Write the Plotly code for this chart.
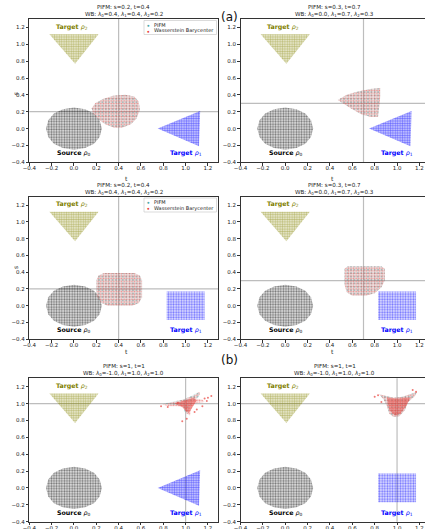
import plotly.graph_objects as go

W, H = 425, 529

# ---------------- data ----------------
PANEL_S = [0.2, 0.3, 0.2, 0.3, 1, 1]
PANEL_T = [0.4, 0.7, 0.4, 0.7, 1, 1]
LAMBDA_0 = [0.4, 0.0, 0.4, 0.0, -1.0, -1.0]
LAMBDA_1 = [0.4, 0.7, 0.4, 0.7, 1.0, 1.0]
LAMBDA_2 = [0.2, 0.3, 0.2, 0.3, 1.0, 1.0]
TARGET1_KIND = ["tri", "tri", "square", "square", "tri", "square"]

TICK_VALUES = [-0.4, -0.2, 0.0, 0.2, 0.4, 0.6, 0.8, 1.0, 1.2]
TICK_LABELS = ["\u22120.4", "\u22120.2", "0.0", "0.2", "0.4", "0.6", "0.8", "1.0", "1.2"]

# source rho_0 (disc) outline
SOURCE_X = [0.25, 0.23, 0.18, 0.10, 0.0, -0.10, -0.18, -0.23, -0.25, -0.23, -0.18, -0.10, 0.0, 0.10, 0.18, 0.23, 0.25]
SOURCE_Y = [0.0, 0.10, 0.18, 0.23, 0.25, 0.23, 0.18, 0.10, 0.0, -0.10, -0.18, -0.23, -0.25, -0.23, -0.18, -0.10, 0.0]

# target rho_2 (inverted triangle)
TARGET2_X = [-0.22, 0.22, 0.01, -0.22]
TARGET2_Y = [1.12, 1.12, 0.77, 1.12]

# target rho_1 variants
TARGET1_TRI_X = [0.75, 1.13, 1.12, 0.75]
TARGET1_TRI_Y = [0.0, 0.21, -0.21, 0.0]
TARGET1_SQ_X = [0.83, 1.17, 1.17, 0.83, 0.83]
TARGET1_SQ_Y = [-0.17, -0.17, 0.17, 0.17, -0.17]

# barycenter / PIFM outlines per panel
BARY0_X = [0.16, 0.19, 0.26, 0.35, 0.46, 0.54, 0.58, 0.59, 0.56, 0.51, 0.43, 0.36, 0.28, 0.21, 0.17, 0.16]
BARY0_Y = [0.24, 0.30, 0.35, 0.39, 0.40, 0.38, 0.32, 0.22, 0.12, 0.05, 0.01, 0.01, 0.05, 0.12, 0.18, 0.24]
BARY1_X = [0.47, 0.55, 0.65, 0.76, 0.85, 0.85, 0.84, 0.83, 0.76, 0.68, 0.60, 0.52, 0.47]
BARY1_Y = [0.34, 0.40, 0.44, 0.47, 0.48, 0.38, 0.25, 0.14, 0.14, 0.17, 0.23, 0.30, 0.34]
BARY2_X = [0.20, 0.22, 0.27, 0.54, 0.59, 0.61, 0.61, 0.58, 0.52, 0.30, 0.24, 0.20, 0.20]
BARY2_Y = [0.30, 0.36, 0.39, 0.39, 0.36, 0.30, 0.10, 0.03, 0.0, 0.0, 0.04, 0.12, 0.30]
BARY3_X = [0.53, 0.56, 0.86, 0.89, 0.89, 0.86, 0.80, 0.72, 0.60, 0.55, 0.53, 0.53]
BARY3_Y = [0.44, 0.47, 0.47, 0.44, 0.30, 0.22, 0.15, 0.12, 0.12, 0.16, 0.25, 0.44]
BARY4_X = [0.79, 0.88, 0.96, 1.02, 1.08, 1.12, 1.13, 1.09, 1.15, 1.17, 1.08, 1.05, 1.04, 1.01, 0.99, 0.93, 0.85, 0.79]
BARY4_Y = [0.99, 1.02, 1.04, 1.07, 1.10, 1.14, 1.11, 1.06, 1.05, 1.02, 1.00, 0.94, 0.86, 0.88, 0.95, 0.97, 0.97, 0.99]
CORE4_X = [0.90, 0.97, 1.03, 1.07, 1.10, 1.08, 1.05, 1.03, 1.00, 0.97, 0.90]
CORE4_Y = [1.00, 1.03, 1.06, 1.07, 1.04, 1.00, 0.93, 0.89, 0.91, 0.96, 1.00]
PIFM4_X = [0.80, 0.90, 0.98, 1.05, 1.10, 1.13, 1.12, 1.07, 1.04, 1.02, 0.99, 0.98, 0.90, 0.80]
PIFM4_Y = [1.00, 1.03, 1.05, 1.09, 1.13, 1.13, 1.08, 1.03, 0.96, 0.88, 0.90, 0.97, 0.98, 1.00]
BARY5_X = [0.84, 0.90, 0.97, 1.05, 1.12, 1.18, 1.16, 1.10, 1.07, 1.02, 0.97, 0.93, 0.91, 0.88, 0.84]
BARY5_Y = [1.11, 1.09, 1.07, 1.08, 1.11, 1.14, 1.09, 1.02, 0.92, 0.85, 0.84, 0.88, 0.97, 1.05, 1.11]
CORE5_X = [0.91, 1.00, 1.08, 1.12, 1.08, 1.03, 0.98, 0.93, 0.91]
CORE5_Y = [1.07, 1.06, 1.07, 1.07, 0.97, 0.88, 0.86, 0.92, 1.07]

# stray barycenter samples (row b)
STRAY4_X = [1.23, 1.20, 1.17, 0.97, 1.08, 0.84, 1.15, 1.10, 0.78, 1.19, 1.01, 0.93]
STRAY4_Y = [1.09, 1.07, 1.06, 0.79, 0.90, 0.96, 0.97, 0.93, 0.97, 1.03, 0.82, 1.01]
STRAY5_X = [0.80, 1.17, 0.86, 1.14, 0.83]
STRAY5_Y = [1.08, 1.14, 1.02, 1.16, 1.10]

BARY_X = [BARY0_X, BARY1_X, BARY2_X, BARY3_X, BARY4_X, BARY5_X]
BARY_Y = [BARY0_Y, BARY1_Y, BARY2_Y, BARY3_Y, BARY4_Y, BARY5_Y]
PIFM_X = [BARY0_X, BARY1_X, BARY2_X, BARY3_X, PIFM4_X, BARY5_X]
PIFM_Y = [BARY0_Y, BARY1_Y, BARY2_Y, BARY3_Y, PIFM4_Y, BARY5_Y]
CORE_X = [None, None, None, None, CORE4_X, CORE5_X]
CORE_Y = [None, None, None, None, CORE4_Y, CORE5_Y]
STRAY_X = [[], [], [], [], STRAY4_X, STRAY5_X]
STRAY_Y = [[], [], [], [], STRAY4_Y, STRAY5_Y]

# label positions (data coords)
LBL_TARGET2 = (-0.02, 1.21)
LBL_SOURCE = (0.0, -0.295)
LBL_TARGET1 = (1.0, -0.295)

# ---------------- styling ----------------
C_OLIVE = "#8c8c14"
C_BLUE = "#0000ff"
C_BLACK = "#000000"
C_TEAL = "#4aa8a8"
C_RED = "#e8403a"
AX_COL = "#333333"
FONT = "DejaVu Sans"

# pixel layout
X_PIX = [(29.3, 218.0), (240.5, 425.0)]
X_MAX = [1.29, 1.25]
Y_PIX = [(19.0, 162.3), (196.7, 339.3), (378.3, 521.7)]


def px(x, y):
    return x / W, 1 - y / H


fig = go.Figure()


def cloud(xs, ys, color, size, solidity, tint, xa, ya):
    fig.add_trace(go.Scatter(
        x=xs, y=ys, mode="lines", line=dict(width=0, color=color),
        fill="toself", fillcolor=tint,
        fillpattern=dict(shape=".", fgcolor=color, bgcolor=tint,
                         size=size, solidity=solidity),
        xaxis=xa, yaxis=ya, showlegend=False, hoverinfo="skip"))


annotations = []
shapes = []
layout_axes = {}

for i in range(6):
    row, col = i // 2, i % 2
    n = "" if i == 0 else str(i + 1)
    xa, ya = "x" + n, "y" + n
    x0p, x1p = X_PIX[col]
    ytop, ybot = Y_PIX[row]
    common = dict(showgrid=False, zeroline=False, showline=True, mirror=True,
                  linecolor=AX_COL, linewidth=0.8, ticks="outside", ticklen=2.5,
                  tickwidth=0.7, tickcolor=AX_COL, tickvals=TICK_VALUES,
                  ticktext=TICK_LABELS, automargin=False,
                  tickfont=dict(family=FONT, size=5.5, color="#222"))
    layout_axes["xaxis" + n] = dict(common, domain=[x0p / W, x1p / W],
                                    range=[-0.4, X_MAX[col]], anchor=ya,
                                    ticklabelstandoff=-2)
    layout_axes["yaxis" + n] = dict(common, domain=[1 - ybot / H, 1 - ytop / H],
                                    range=[-0.4, 1.3], anchor=xa)

    # clouds
    cloud(SOURCE_X, SOURCE_Y, C_BLACK, 2.6, 0.46, "rgba(0,0,0,0.1)", xa, ya)
    cloud(TARGET2_X, TARGET2_Y, C_OLIVE, 2.4, 0.55, "rgba(140,140,20,0.15)", xa, ya)
    if TARGET1_KIND[i] == "tri":
        cloud(TARGET1_TRI_X, TARGET1_TRI_Y, C_BLUE, 2.4, 0.58, "rgba(0,0,255,0.15)", xa, ya)
    else:
        cloud(TARGET1_SQ_X, TARGET1_SQ_Y, C_BLUE, 2.6, 0.46, "rgba(0,0,255,0.1)", xa, ya)
    cloud(PIFM_X[i], PIFM_Y[i], C_TEAL, 3.4, 0.26, "rgba(74,168,168,0.1)", xa, ya)
    cloud(BARY_X[i], BARY_Y[i], C_RED, 2.6, 0.36, "rgba(232,64,58,0.1)", xa, ya)
    if CORE_X[i]:
        cloud(CORE_X[i], CORE_Y[i], C_RED, 2.2, 0.55, "rgba(232,64,58,0.3)", xa, ya)
    if STRAY_X[i]:
        fig.add_trace(go.Scatter(x=STRAY_X[i], y=STRAY_Y[i], mode="markers",
                                 marker=dict(size=2, color=C_RED, opacity=0.7),
                                 xaxis=xa, yaxis=ya, showlegend=False, hoverinfo="skip"))

    # crosshair at (t, s)
    shapes.append(dict(type="line", xref=xa, yref=ya + " domain", x0=PANEL_T[i], x1=PANEL_T[i],
                       y0=0, y1=1, line=dict(color="#bdbdbd", width=1.2), layer="below"))
    shapes.append(dict(type="line", xref=xa + " domain", yref=ya, x0=0, x1=1,
                       y0=PANEL_S[i], y1=PANEL_S[i], line=dict(color="#bdbdbd", width=1.2), layer="below"))

    # in-panel labels
    annotations.append(dict(xref=xa, yref=ya, x=LBL_TARGET2[0], y=LBL_TARGET2[1], showarrow=False,
                            text="<b>Target</b> <i>ρ</i><sub>2</sub>",
                            font=dict(family=FONT, size=6.3, color="#808000")))
    annotations.append(dict(xref=xa, yref=ya, x=LBL_SOURCE[0], y=LBL_SOURCE[1], showarrow=False,
                            text="<b>Source</b> <i>ρ</i><sub>0</sub>",
                            font=dict(family=FONT, size=6.3, color="#000000")))
    annotations.append(dict(xref=xa, yref=ya, x=LBL_TARGET1[0], y=LBL_TARGET1[1], showarrow=False,
                            text="<b>Target</b> <i>ρ</i><sub>1</sub>",
                            font=dict(family=FONT, size=6.3, color="#0000ff")))

    # titles (two lines)
    cx = (x0p + (x0p + 188.7)) / 2
    t1 = f"PIFM: s={PANEL_S[i]:g}, t={PANEL_T[i]:g}"
    t2 = (f"WB: <i>λ</i><sub>0</sub>={LAMBDA_0[i]:.1f}, <i>λ</i><sub>1</sub>={LAMBDA_1[i]:.1f}, "
          f"<i>λ</i><sub>2</sub>={LAMBDA_2[i]:.1f}")
    for txt, dy in ((t1, 12.2), (t2, 4.6)):
        xp, yp = px(cx, ytop - dy)
        annotations.append(dict(xref="paper", yref="paper", x=xp, y=yp, showarrow=False,
                                text=txt, xanchor="center", yanchor="middle", borderpad=0,
                                font=dict(family=FONT, size=5.6, color="#222")))

    # axis labels
    if row < 2:
        xp, yp = px(cx, ybot + 12.0)
        annotations.append(dict(xref="paper", yref="paper", x=xp, y=yp, showarrow=False,
                                text="t", borderpad=0, font=dict(family=FONT, size=6, color="#222")))
    if col == 0 and row < 2:
        xp, yp = px(9.5, (ytop + ybot) / 2)
        annotations.append(dict(xref="paper", yref="paper", x=xp, y=yp, showarrow=False,
                                text="s", textangle=-90, font=dict(family=FONT, size=6, color="#222")))

# panel letters
for txt, (x, y) in (("(a)", (230, 9.5)), ("(b)", (230, 368))):
    xp, yp = px(x, y)
    annotations.append(dict(xref="paper", yref="paper", x=xp, y=yp, showarrow=False, text=txt,
                            borderpad=0, font=dict(family=FONT, size=12, color="#111")))

# manual legends in left panels of rows 1 and 2
for top in (20.5, 198.0):
    x0, y0 = px(144, top)
    x1, y1 = px(216.5, top + 14)
    shapes.append(dict(type="rect", xref="paper", yref="paper", x0=x0, x1=x1, y0=y1, y1=y0,
                       line=dict(color="#cccccc", width=0.7), fillcolor="rgba(255,255,255,0.85)",
                       layer="above"))
    for k, (lab, colr) in enumerate((("PIFM", C_TEAL), ("Wasserstein Barycenter", C_RED))):
        yy = top + 4 + k * 6.3
        xp, yp = px(148, yy)
        annotations.append(dict(xref="paper", yref="paper", x=xp, y=yp, showarrow=False, text="●",
                                font=dict(size=4.5, color=colr), xanchor="center", yanchor="middle"))
        xp, yp = px(152, yy)
        annotations.append(dict(xref="paper", yref="paper", x=xp, y=yp, showarrow=False, text=lab,
                                xanchor="left", yanchor="middle",
                                font=dict(family=FONT, size=5, color="#222")))

fig.update_layout(width=W, height=H, margin=dict(l=0, r=0, t=0, b=0, autoexpand=False),
                  paper_bgcolor="white", plot_bgcolor="white", showlegend=False,
                  annotations=annotations, shapes=shapes, **layout_axes)

fig.write_html("out.html", config={"displayModeBar": False},
               post_script="document.body.style.margin='0';document.body.style.padding='0';"
                           "document.body.style.overflow='hidden';")
